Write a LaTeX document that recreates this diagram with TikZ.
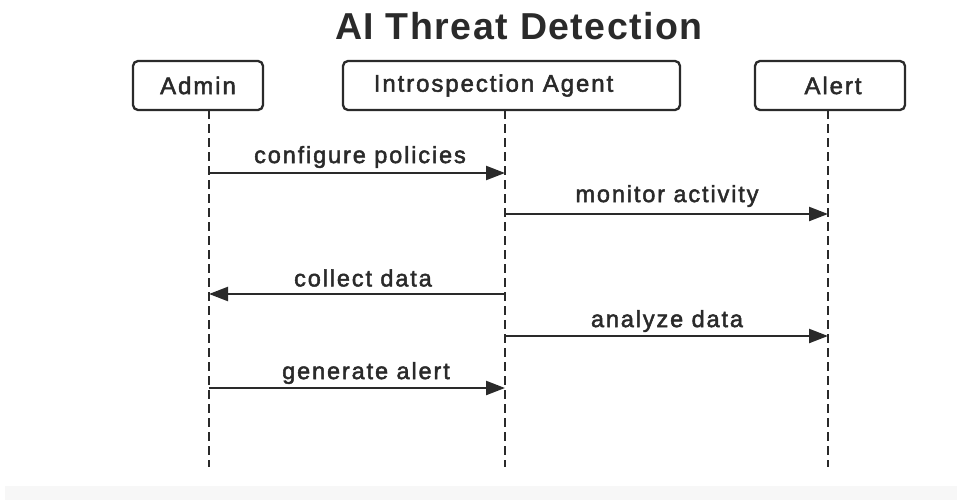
\documentclass[tikz,border=0pt]{standalone}
\usepackage{fontspec}
\setmainfont{Liberation Sans}
\newfontfamily\titlefont[LetterSpace=4]{Liberation Sans}
\newfontfamily\labfont[LetterSpace=8,FakeBold=2]{Liberation Sans}
\usetikzlibrary{arrows.meta}
\definecolor{ink}{HTML}{2A2A2A}
\begin{document}
\begin{tikzpicture}[x=1pt,y=-1pt,
  actor/.style={draw=ink,line width=2.3pt,rounded corners=5pt,fill=white,inner sep=0pt,
    font=\labfont\fontsize{24}{28}\selectfont,text=ink},
  lifeline/.style={draw=ink,line width=2.3pt,dash pattern=on 9pt off 5pt},
  msg/.style={draw=ink,line width=2.3pt,-{Triangle[length=19pt,width=14pt]}},
  msglab/.style={font=\labfont\fontsize{23.5}{26}\selectfont,text=ink,inner sep=0pt}]
\useasboundingbox[fill=white] (0,0) rectangle (957,500);
\fill[black!3] (5,486) rectangle (957,500);
\node[font=\titlefont\bfseries\fontsize{37.5}{42}\selectfont,text=ink] (title) at (519,26) {AI Threat Detection};
\node[actor,minimum width=130pt,minimum height=49pt] (admin) at (198,85.5) {Admin};
\node[actor,minimum width=337pt,minimum height=49pt] (agent) at (511.5,85.5) {Introspection Agent\hspace*{36pt}};
\node[actor,minimum width=150pt,minimum height=49pt] (alert) at (830,85.5) {\hspace*{6pt}Alert};
\coordinate (aTop) at (209,110);
\coordinate (gTop) at (505,110);
\coordinate (lTop) at (828,110);
\coordinate (aEnd) at (209,467);
\coordinate (gEnd) at (505,467);
\coordinate (lEnd) at (828,467);
\draw[lifeline] (aTop) -- (aEnd);
\draw[lifeline] (gTop) -- (gEnd);
\draw[lifeline] (lTop) -- (lEnd);
% messages
\coordinate (a1) at (209,173); \coordinate (g1) at (505,173);
\coordinate (g2) at (505,214); \coordinate (l2) at (828,214);
\coordinate (g3) at (505,294); \coordinate (a3) at (209,294);
\coordinate (g4) at (505,336); \coordinate (l4) at (828,336);
\coordinate (a5) at (209,388); \coordinate (g5) at (505,388);
\draw[msg] (a1) -- (g1);
\draw[msg] (g2) -- (l2);
\draw[msg] (g3) -- (a3);
\draw[msg] (g4) -- (l4);
\draw[msg] (a5) -- (g5);
\node[msglab] (m1) at (360,157) {configure policies};
\node[msglab] (m2) at (667,196) {monitor activity};
\node[msglab] (m3) at (363,278) {collect data};
\node[msglab] (m4) at (667,321) {analyze data};
\node[msglab] (m5) at (366,373) {generate alert};
\end{tikzpicture}
\end{document}
